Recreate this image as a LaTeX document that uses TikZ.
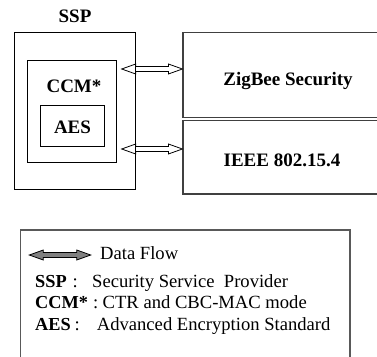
\documentclass[tikz,border=0pt]{standalone}
\usepackage{fontspec}
\setmainfont{Liberation Serif}
\usetikzlibrary{calc}

% Hollow double-headed flow arrow between two points
\newcommand\fatflow[3][flow]{%
  \draw[#1] (#2) -- ($(#2)+(14,-5)$) -- ($(#2)+(14,-2.5)$)
    -- ($(#3)+(-14,-2.5)$) -- ($(#3)+(-14,-5)$) -- (#3)
    -- ($(#3)+(-14,5)$) -- ($(#3)+(-14,2.5)$)
    -- ($(#2)+(14,2.5)$) -- ($(#2)+(14,5)$) -- cycle;}

\begin{document}
\begin{tikzpicture}[x=1pt,y=-1pt,
  box/.style={draw=black, line width=0.9pt, inner sep=0pt},
  layer/.style={draw=black!75, line width=1.2pt, inner sep=0pt},
  legendbox/.style={draw=black!65, line width=1.2pt, inner sep=0pt},
  title/.style={font=\fontsize{19}{22}\selectfont\bfseries, inner sep=0pt, anchor=base},
  legtext/.style={font=\fontsize{18.6}{22}\selectfont, inner sep=0pt, anchor=base west},
  legkey/.style={font=\fontsize{18.3}{22}\selectfont\bfseries, inner sep=0pt, anchor=base west},
  flow/.style={draw=black, line width=0.8pt, line join=miter},
  flowkey/.style={draw=black, line width=0.8pt, line join=miter, fill=black!50}]

\useasboundingbox (0,0) rectangle (377,356);
\clip (0,0) rectangle (377,356);

% Security service provider and its nested blocks
\node[box, minimum width=120.8pt, minimum height=156.3pt] (ssp) at (75.1,110.85) {};
\node[box, minimum width=89pt, minimum height=102pt] (ccm) at (72.2,111) {};
\node[box, minimum width=63.6pt, minimum height=41pt] (aes) at (72.5,126.2) {};
\node[title] (ssplbl) at (75,22.7) {SSP};
\node[title] (ccmlbl) at (74,92.7) {CCM*};
\node[title] (aeslbl) at (72.5,133.3) {AES};

% Stack layers on the right
\node[layer, minimum width=237pt, minimum height=84.6pt] (zig) at (301.5,75) {};
\node[layer, minimum width=237pt, minimum height=73.3pt] (ieee) at (301.5,157.35) {};
\node[title] (ziglbl) at (288,85) {ZigBee Security};
\node[title] (ieeelbl) at (282,166.7) {IEEE 802.15.4};

% Data flows between SSP and the layers
\coordinate (f1) at (121.7,69);
\coordinate (f2) at (121.7,149);
\coordinate (g1) at (zig.west |- f1);
\coordinate (g2) at (ieee.west |- f2);
\fatflow{f1}{g1}
\fatflow{f2}{g2}

% Legend
\node[legendbox, minimum width=329.3pt, minimum height=170pt] (legend) at (185.35,315) {};
\coordinate (k1) at (29.3,255);
\coordinate (k2) at (90.7,255);
\fatflow[flowkey]{k1}{k2}
\node[legtext] (dflow) at (100,259) {Data Flow};

\node[legkey] (kssp) at (35,287.5) {SSP};
\node[legtext] (cssp) at (72.5,287.5) {:};
\node[legtext] (tssp) at (92,287.5) {Security Service\ \ Provider};

\node[legkey] (kccm) at (35,308.5) {CCM*};
\node[legtext] (cccm) at (93,308.5) {:};
\node[legtext] (tccm) at (102.5,308.5) {CTR and CBC-MAC mode};

\node[legkey] (kaes) at (35,330) {AES};
\node[legtext] (caes) at (74.5,330) {:};
\node[legtext] (taes) at (96.7,330) {Advanced Encryption Standard};
\end{tikzpicture}
\end{document}
